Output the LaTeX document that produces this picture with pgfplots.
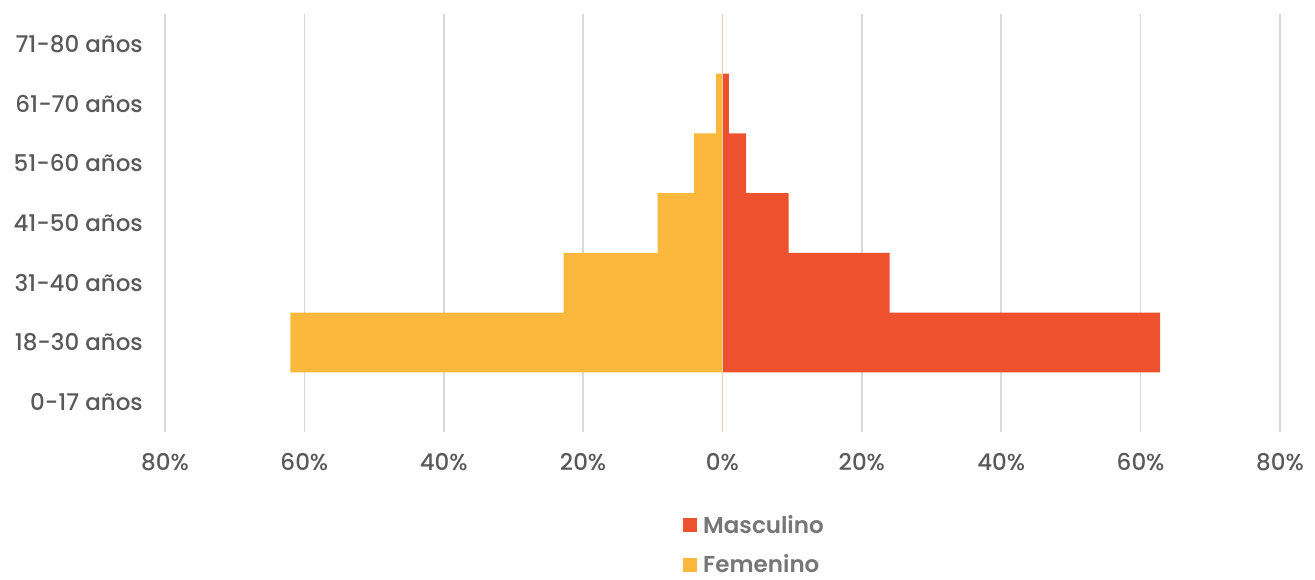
\documentclass[border=0pt]{standalone}
\usepackage{pgfplots}
\pgfplotsset{compat=1.18}
\usepackage{fontspec}
\setmainfont{Poppins}[UprightFont=* Medium, BoldFont=* SemiBold]
\definecolor{masc}{HTML}{EE512E}
\definecolor{fem}{HTML}{FBB83C}
\definecolor{tick}{HTML}{595959}
\definecolor{leg}{HTML}{767676}
\definecolor{gridc}{HTML}{D9D9D9}
\definecolor{zero}{HTML}{E6D2B0}
\begin{document}
\begin{tikzpicture}
\useasboundingbox (-165pt,-147pt) rectangle (1150pt,432pt);
\begin{axis}[
  at={(0,0)}, anchor=south west,
  scale only axis, width=1115pt, height=418pt,
  xmin=-80, xmax=80, ymin=-0.5, ymax=6.5,
  axis line style={draw=none},
  major tick length=0pt,
  xmajorgrids, grid style={gridc, line width=1.6pt},
  xtick={-80,-60,...,80},
  xticklabels={80\%,60\%,40\%,20\%,0\%,20\%,40\%,60\%,80\%},
  ytick={0,...,6},
  yticklabels={0-17 años,18-30 años,31-40 años,41-50 años,51-60 años,61-70 años,71-80 años},
  ticklabel style={font=\fontsize{23}{27}\selectfont, text=tick, inner sep=0pt},
  xticklabel style={yshift=-21pt, anchor=north},
  yticklabel style={xshift=-22pt, anchor=east},
  xbar, bar width=1, bar shift=0pt,
  legend style={draw=none, fill=none, at={(0.4646,-0.199)}, anchor=north west,
    inner sep=0pt, row sep=20pt, font=\fontsize{23}{27}\selectfont\bfseries, text=leg,
    /tikz/every even column/.append style={column sep=0pt},
    nodes={inner sep=0pt, outer sep=0pt}},
  legend cell align=left,
  legend image code/.code={\fill[#1] (0pt,-7pt) rectangle (14pt,7pt);},
]
\addplot[fill=masc, draw=none] coordinates {
(0,0) (62.8,1) (24.0,2) (9.5,3) (3.4,4) (0.9,5) (0,6)};
\addlegendentry{\hspace{6pt}Masculino}
\addplot[fill=fem, draw=none] coordinates {
(0,0) (-62.0,1) (-22.8,2) (-9.3,3) (-4.1,4) (-0.9,5) (0,6)};
\addlegendentry{\hspace{6pt}Femenino}
\draw[zero, line width=1.8pt] (axis cs:0,-0.5) -- (axis cs:0,6.5);
\end{axis}
\end{tikzpicture}
\end{document}
